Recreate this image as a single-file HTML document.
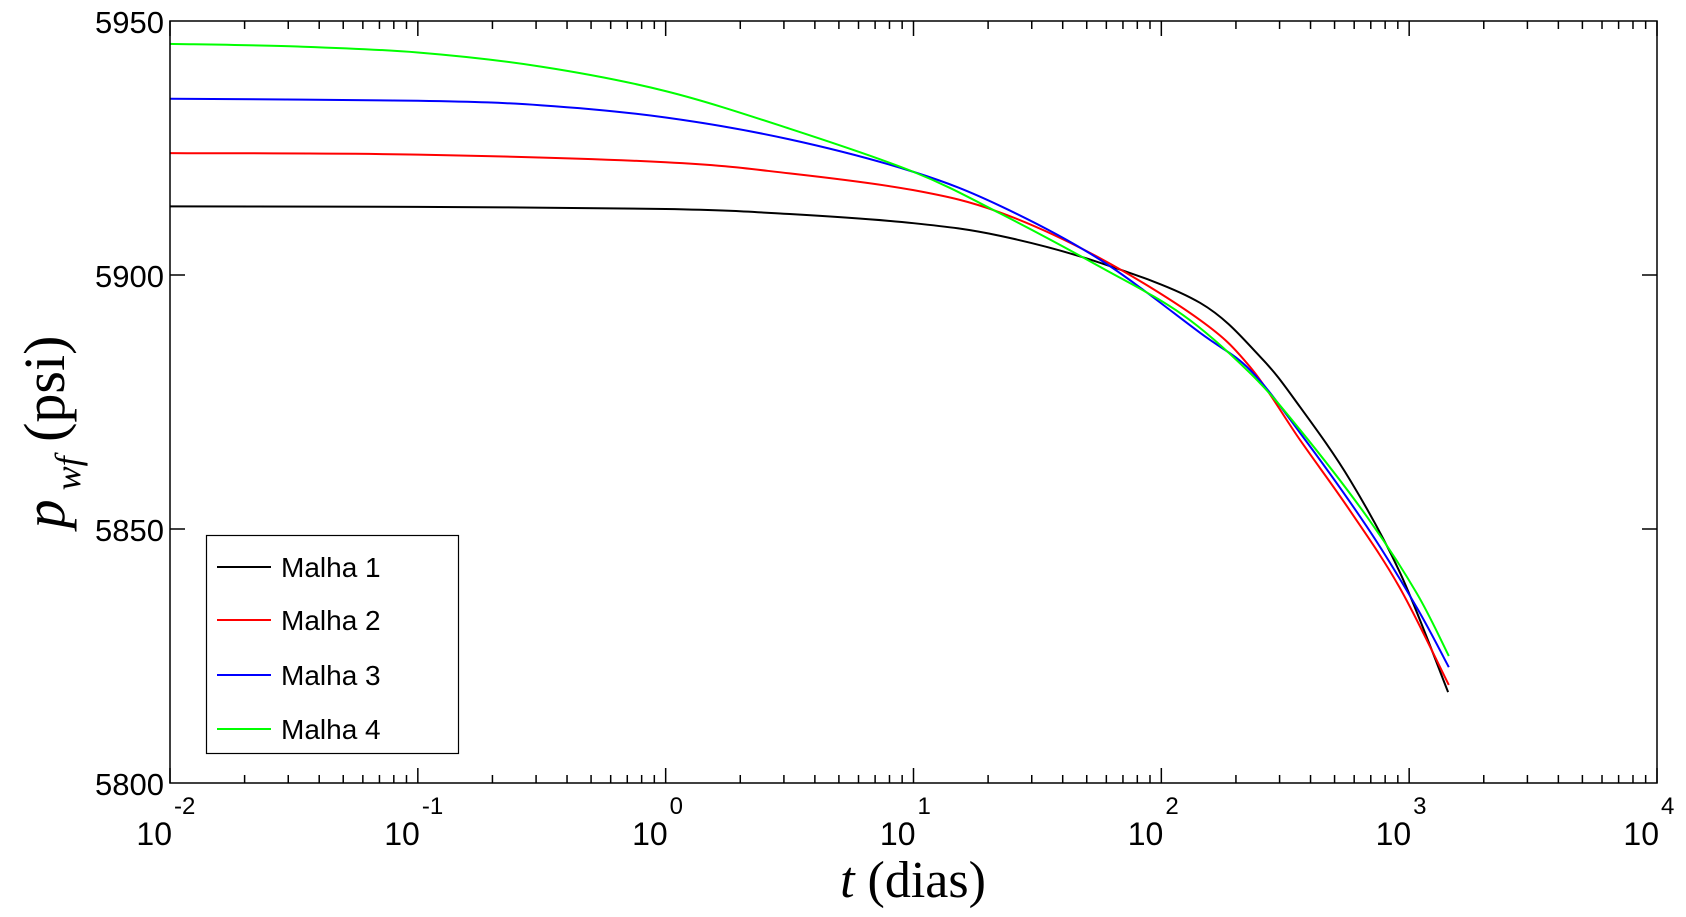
<!DOCTYPE html>
<html><head><meta charset="utf-8"><style>
html,body{margin:0;padding:0;background:#fff;width:1686px;height:917px;overflow:hidden}
svg{display:block}
</style></head><body>
<svg id="s" width="1686" height="917" xmlns="http://www.w3.org/2000/svg">
<rect width="1686" height="917" fill="#fff"/>
<g id="curves" fill="none" stroke-width="2"></g>
<g id="ticks" stroke="#000" stroke-width="1.5"></g>
<rect x="170" y="21" width="1487" height="762" fill="none" stroke="#000" stroke-width="1.5"/>
<g font-family="Liberation Sans, sans-serif" font-size="31" text-anchor="end" fill="#000">
<text x="164" y="33">5950</text>
<text x="164" y="287">5900</text>
<text x="164" y="541">5850</text>
<text x="164" y="795">5800</text>
</g>
<g id="xl" font-family="Liberation Sans, sans-serif" fill="#000"></g>
<text x="913" y="897" text-anchor="middle" font-family="Liberation Serif, serif" font-size="52"><tspan font-style="italic">t</tspan> (dias)</text>
<g transform="translate(64,432) rotate(-90)">
<text x="0" y="0" text-anchor="middle" font-family="Liberation Serif, serif" font-size="58"><tspan font-style="italic">p</tspan><tspan font-style="italic" font-size="36" dy="16"> wf</tspan><tspan dy="-16">  (psi)</tspan></text>
</g>
<rect x="206.5" y="535.5" width="252" height="218" fill="#fff" stroke="#000" stroke-width="1.2"/>
<g stroke-width="2">
<line x1="217" y1="567" x2="271" y2="567" stroke="#000"/>
<line x1="217" y1="620" x2="271" y2="620" stroke="#f00"/>
<line x1="217" y1="675" x2="271" y2="675" stroke="#00f"/>
<line x1="217" y1="729" x2="271" y2="729" stroke="#0f0"/>
</g>
<g font-family="Liberation Sans, sans-serif" font-size="28" fill="#000">
<text x="281" y="577">Malha 1</text>
<text x="281" y="630">Malha 2</text>
<text x="281" y="685">Malha 3</text>
<text x="281" y="739">Malha 4</text>
</g>
</svg>
<script>
var L=170,R=1657,T=21,B=783,dec=(R-L)/6;
function X(l){return L+(l+2)*dec}
function Y(p){return T+(5950-p)*(B-T)/150}
var tk=document.getElementById('ticks'),h='';
for(var d=-2;d<=4;d++){
 var x=X(d);
 h+='<line x1="'+x+'" y1="'+B+'" x2="'+x+'" y2="'+(B-15)+'"/><line x1="'+x+'" y1="'+T+'" x2="'+x+'" y2="'+(T+15)+'"/>';
 if(d<4)for(var k=2;k<10;k++){var xx=X(d+Math.log10(k));
 h+='<line x1="'+xx+'" y1="'+B+'" x2="'+xx+'" y2="'+(B-8)+'"/><line x1="'+xx+'" y1="'+T+'" x2="'+xx+'" y2="'+(T+8)+'"/>';}
}
[5900,5850].forEach(function(p){var y=Y(p);h+='<line x1="'+L+'" y1="'+y+'" x2="'+(L+15)+'" y2="'+y+'"/><line x1="'+R+'" y1="'+y+'" x2="'+(R-15)+'" y2="'+y+'"/>';});
tk.innerHTML=h;
var xl='';
for(var d=-2;d<=4;d++){var x=X(d);
 xl+='<text x="'+(x+2)+'" y="845" font-size="32" text-anchor="end">10</text><text x="'+(x+4)+'" y="814" font-size="24">'+(d<0?'-'+(-d):d)+'</text>';}
document.getElementById('xl').innerHTML=xl;
var data={
'#000':[[-2,5913.5],[-1,5913.4],[0,5913.0],[0.5,5912],[1,5910.2],[1.35,5907.7],[1.753,5902.4],[2.157,5894.5],[2.399,5883.9],[2.56,5874],[2.762,5859.6],[2.964,5841.3],[3.157,5817.9]],
'#f00':[[-2,5924],[-1,5923.7],[0,5922.2],[0.5,5920],[1,5916.7],[1.35,5912.3],[1.753,5903.3],[2.157,5891.1],[2.358,5881.9],[2.56,5867.5],[2.76,5853.7],[2.96,5838.6],[3.16,5819.3]],
'#00f':[[-2,5934.7],[-1,5934.3],[-0.5,5933.4],[0,5931],[0.5,5926.7],[1,5920.3],[1.35,5913.6],[1.753,5903],[2.157,5888.6],[2.358,5881.3],[2.56,5868.9],[2.83,5850.4],[3.03,5834.6],[3.16,5822.8]],
'#0f0':[[-2,5945.5],[-1.5,5945],[-1,5943.8],[-0.5,5941],[0,5936.2],[0.5,5928.8],[1,5920.3],[1.35,5912.1],[1.753,5901.6],[2.088,5892.1],[2.358,5880.7],[2.56,5869.5],[2.83,5852.4],[3.03,5837.4],[3.16,5825]]};
var g='';
for(var c in data){var p=data[c].map(function(a){return [X(a[0]),Y(a[1])]});
 var s='M'+p[0][0]+','+p[0][1];
 for(var i=0;i<p.length-1;i++){var p0=p[i-1]||p[i],p1=p[i],p2=p[i+1],p3=p[i+2]||p2;
  s+=' C'+(p1[0]+(p2[0]-p0[0])/6)+','+(p1[1]+(p2[1]-p0[1])/6)+' '+(p2[0]-(p3[0]-p1[0])/6)+','+(p2[1]-(p3[1]-p1[1])/6)+' '+p2[0]+','+p2[1];}
 g+='<path d="'+s+'" stroke="'+c+'"/>';}
document.getElementById('curves').innerHTML=g;
</script>
</body></html>
